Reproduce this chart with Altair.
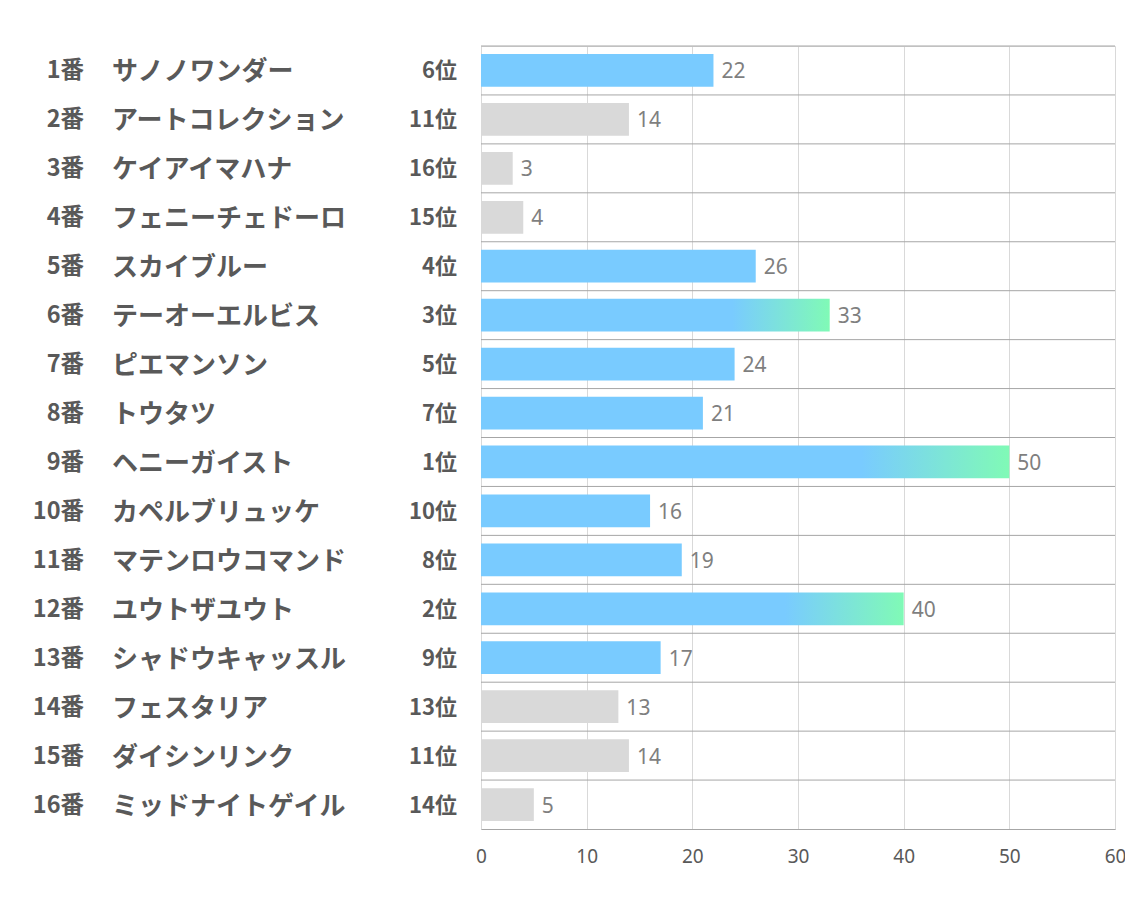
import altair as alt
import pandas as pd

nums = ["1番", "2番", "3番", "4番", "5番", "6番", "7番", "8番",
        "9番", "10番", "11番", "12番", "13番", "14番", "15番", "16番"]
names = ["サノノワンダー", "アートコレクション", "ケイアイマハナ", "フェニーチェドーロ",
         "スカイブルー", "テーオーエルビス", "ピエマンソン", "トウタツ",
         "ヘニーガイスト", "カペルブリュッケ", "マテンロウコマンド", "ユウトザユウト",
         "シャドウキャッスル", "フェスタリア", "ダイシンリンク", "ミッドナイトゲイル"]
ranks = ["6位", "11位", "16位", "15位", "4位", "3位", "5位", "7位",
         "1位", "10位", "8位", "2位", "9位", "13位", "11位", "14位"]
values = [22, 14, 3, 4, 26, 33, 24, 21, 50, 16, 19, 40, 17, 13, 14, 5]
x_ticks = [0, 10, 20, 30, 40, 50, 60]

df = pd.DataFrame({"num": nums, "name": names, "rank": ranks, "value": values})
rank_n = df["rank"].str.replace("位", "").astype(int)
df["group"] = ["top" if r <= 3 else ("blue" if r <= 10 else "gray") for r in rank_n]

W, H = 634, 783
step = H / len(nums)

Y = alt.Y("num:N", sort=nums, axis=None,
          scale=alt.Scale(paddingInner=0.33, paddingOuter=0.165))
X = alt.X("value:Q", scale=alt.Scale(domain=[0, 60]),
          axis=alt.Axis(values=x_ticks, title=None, grid=True, gridColor="#D9D9D9",
                        ticks=False, domainColor="#A6A6A6", labelFontSize=19,
                        labelColor="#595959", labelPadding=18, labelFlush=False,
                        labelFont="Noto Sans"))

base = alt.Chart(df)

rules = base.mark_rule(color="#A6A6A6", yOffset=-step / 2).encode(
    y=Y, x=alt.value(0), x2=alt.value(W))

gray = base.mark_bar(color="#D9D9D9").encode(x=X, y=Y).transform_filter(
    alt.datum.group == "gray")
blue = base.mark_bar(color="#79CBFF").encode(x=X, y=Y).transform_filter(
    alt.datum.group == "blue")
grad = base.mark_bar(color=alt.LinearGradient(
    gradient="linear", x1=0, x2=1, y1=0, y2=0,
    stops=[alt.GradientStop(color="#79CBFF", offset=0),
           alt.GradientStop(color="#79CBFF", offset=0.72),
           alt.GradientStop(color="#80FAB6", offset=1)])).encode(x=X, y=Y).transform_filter(
    alt.datum.group == "top")

vals = base.mark_text(align="left", dx=8, dy=2, fontSize=21, color="#7F7F7F",
                      font="Noto Sans").encode(x=X, y=Y, text="value:Q")

lab_font = "Noto Sans CJK JP"
num_t = base.mark_text(align="right", fontSize=23.5, fontWeight="bold", dy=1,
                       color="#595959", font=lab_font).encode(
    x=alt.value(84 - 481), y=Y, text="num:N")
name_t = base.mark_text(align="left", fontSize=26, fontWeight="bold", dy=2,
                        color="#595959", font=lab_font).encode(
    x=alt.value(112 - 481), y=Y, text="name:N")
rank_t = base.mark_text(align="right", fontSize=22, fontWeight="bold", dy=1,
                        color="#595959", font=lab_font).encode(
    x=alt.value(457 - 481), y=Y, text="rank:N")

chart = alt.layer(rules, gray, blue, grad, vals, num_t, name_t, rank_t).properties(
    width=W, height=H,
    autosize=alt.AutoSizeParams(type="none"),
    padding={"left": 473, "top": 38, "right": 10, "bottom": 60},
).configure_view(stroke=None).configure(background="white")

chart.save("out.html", embed_options={"renderer": "svg", "actions": False})
